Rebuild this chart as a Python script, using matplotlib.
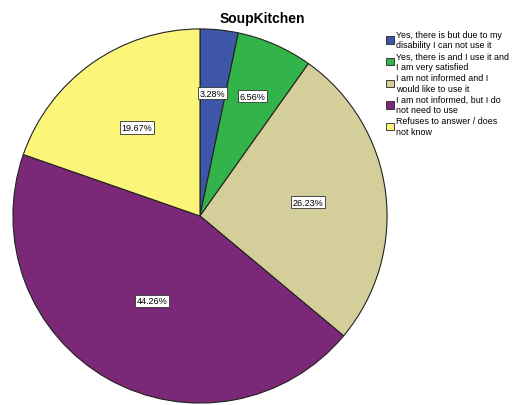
import numpy as np
import matplotlib.pyplot as plt

# Data
categories = [
    'Yes, there is but due to my\ndisability I can not use it',
    'Yes, there is and I use it and\nI am very satisfied',
    'I am not informed and I\nwould like to use it',
    'I am not informed, but I do\nnot need to use',
    'Refuses to answer / does\nnot know',
]
percents = [3.28, 6.56, 26.23, 44.26, 19.67]
colors = ['#3d56a8', '#33b44a', '#d4cf9a', '#7b2879', '#fbf679']
label_radius = [0.66, 0.70, 0.58, 0.52, 0.58]

fig = plt.figure(figsize=(5.13, 4.06), dpi=100)
fig.patch.set_facecolor('white')

# Pie axes
ax = fig.add_axes([12 / 513, 1 / 406, 376 / 513, 376 / 406])
wedges, texts, autotexts = ax.pie(
    percents, colors=colors, startangle=90, counterclock=False,
    autopct=lambda p: f'{p:.2f}%', pctdistance=0.6,
    wedgeprops=dict(edgecolor='#222222', linewidth=0.8),
    textprops=dict(fontsize=6.5, family='Liberation Sans'),
)
# move each percent label along its wedge's mid angle
for w, t, r in zip(wedges, autotexts, label_radius):
    ang = np.deg2rad((w.theta1 + w.theta2) / 2)
    t.set_position((r * np.cos(ang), r * np.sin(ang)))
    t.set_bbox(dict(facecolor='white', edgecolor='#333333', linewidth=0.6, pad=1.2))
ax.set_xlim(-1.005, 1.005)
ax.set_ylim(-1.005, 1.005)
ax.set_aspect('equal')

# Title
fig.text(262 / 513, 1 - 19 / 406, 'SoupKitchen', ha='center', va='center',
         fontsize=10, fontweight='bold', family='Liberation Sans')

# Legend
leg = fig.legend(wedges, categories, loc='upper left',
                 bbox_to_anchor=(386 / 513, 1 - 31 / 406),
                 frameon=False, prop=dict(family='Liberation Sans', size=6.4),
                 handlelength=0.9, handleheight=0.9, handletextpad=0.25,
                 labelspacing=0.25, borderaxespad=0, borderpad=0)
for h in leg.legend_handles:
    h.set_edgecolor('#222222')
    h.set_linewidth(0.6)

fig.savefig('out.png', dpi=100)
